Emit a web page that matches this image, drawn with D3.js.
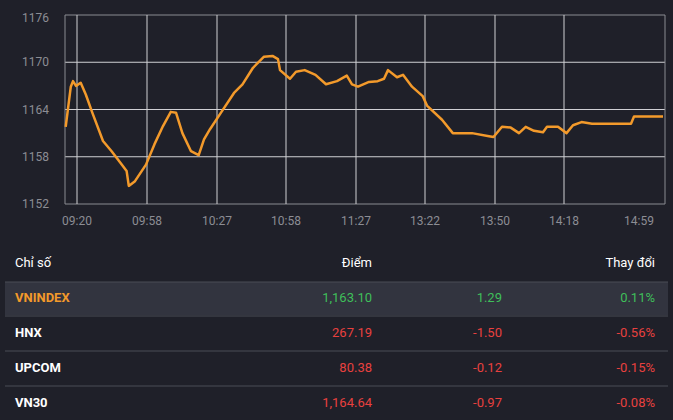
<!DOCTYPE html><html><head><meta charset="utf-8"><script src="https://cdn.jsdelivr.net/npm/d3@7"></script>
<style>body{margin:0;background:#1f2029;}svg{display:block;font-family:Roboto,sans-serif}</style></head><body><svg id="c" width="673" height="420"></svg>
<script>
const times=[0.7,5.8,8,11,15.7,20.8,27.3,38,46.6,55,61.6,63.8,70,81,89.5,98,105.8,111,117.4,126,133.7,139,145,156,169,177.5,188,199,207.5,213,215,225,231,239.7,250.5,261,272,281.8,287,293,304,312.7,319,323,332,338,347,357.7,362,377,387.8,398.5,407,424,428.5,437,445.7,454,460.7,469,478,482,493,501.5,508,516.5,527,566,569,598];
const values=[1161.8,1166.9,1167.6,1167,1167.4,1165.9,1163.6,1160,1158.7,1157.3,1156.2,1154.3,1154.9,1157,1159.6,1161.9,1163.7,1163.6,1161,1158.7,1158.2,1160.2,1161.5,1163.6,1166.1,1167.2,1169.3,1170.7,1170.8,1170.4,1169,1167.9,1168.8,1169,1168.4,1167.2,1167.6,1168.3,1167.2,1166.9,1167.5,1167.6,1167.9,1169,1168.1,1168.4,1166.9,1165.7,1164.5,1162.7,1161,1161,1161,1160.6,1160.5,1161.8,1161.7,1161,1161.8,1161.3,1161.1,1161.8,1161.8,1161,1162,1162.4,1162.2,1162.2,1163.1,1163.1];
const tickPos=[12,82,152,221,291,360,430,499,574];
const tickLabels=["09:20","09:58","10:27","10:58","11:27","13:22","13:50","14:18","14:59"];
const yTicks=[1152,1158,1164,1170,1176];
const names=["VNINDEX","HNX","UPCOM","VN30"];
const points=["1,163.10","267.19","80.38","1,164.64"];
const changes=["1.29","-1.50","-0.12","-0.97"];
const pcts=["0.11%","-0.56%","-0.15%","-0.08%"];

const svg=d3.select("#c");
const x=d3.scaleLinear().domain([0,600]).range([65,665]);
const y=d3.scaleLinear().domain([1152,1176]).range([204,15]);
const g=svg.append("g");
g.selectAll(".hg").data(yTicks).join("line").attr("x1",65).attr("x2",665).attr("y1",d=>y(d)).attr("y2",d=>y(d)).attr("stroke",(d,i)=>i==0||i==4?"#8a8b92":"#d0d0d4").attr("stroke-width",1);
g.selectAll(".vg").data(tickPos.slice(0,8)).join("line").attr("x1",d=>x(d)).attr("x2",d=>x(d)).attr("y1",15).attr("y2",204).attr("stroke","#d0d0d4");
g.append("line").attr("x1",65).attr("x2",65).attr("y1",15).attr("y2",204).attr("stroke","#8a8b92");
g.append("line").attr("x1",665).attr("x2",665).attr("y1",15).attr("y2",204).attr("stroke","#8a8b92");
g.selectAll(".yl").data(yTicks).join("text").attr("x",49).attr("y",d=>y(d)+4+(d==1176?3:0)).attr("text-anchor","end").attr("fill","#8c8d94").attr("font-size",12).text(d=>d);
g.selectAll(".xl").data(tickPos).join("text").attr("x",(d,i)=>x(d)).attr("y",225).attr("text-anchor","middle").attr("fill","#8c8d94").attr("font-size",12).text((d,i)=>tickLabels[i]);
g.append("path").datum(times.map((t,i)=>[t,values[i]])).attr("d",d3.line().x(d=>x(d[0])).y(d=>y(d[1]))).attr("fill","none").attr("stroke","#f39a2b").attr("stroke-width",2.5).attr("stroke-linejoin","round");

const t=svg.append("g").attr("font-size",13);
t.append("text").attr("x",15).attr("y",267).attr("fill","#fff").text("Chỉ số");
t.append("text").attr("x",372).attr("y",267).attr("fill","#fff").attr("text-anchor","end").text("Điểm");
t.append("text").attr("x",655).attr("y",267).attr("fill","#fff").attr("text-anchor","end").text("Thay đổi");
t.append("rect").attr("x",5).attr("y",282).attr("width",663).attr("height",33).attr("fill","#32343f");
[282,316,351,386].forEach(v=>t.append("line").attr("x1",5).attr("x2",668).attr("y1",v).attr("y2",v).attr("stroke","#4a4c57"));
names.forEach((n,i)=>{
 const cy=302+i*35, col=changes[i][0]=="-"?"#e8403f":"#3fbf5a";
 t.append("text").attr("x",15).attr("y",cy).attr("fill",i==0?"#f39a2b":"#fff").attr("font-weight","bold").text(n);
 t.append("text").attr("x",372).attr("y",cy).attr("fill",col).attr("text-anchor","end").text(points[i]);
 t.append("text").attr("x",502).attr("y",cy).attr("fill",col).attr("text-anchor","end").text(changes[i]);
 t.append("text").attr("x",655).attr("y",cy).attr("fill",col).attr("text-anchor","end").text(pcts[i]);
});
</script></body></html>
